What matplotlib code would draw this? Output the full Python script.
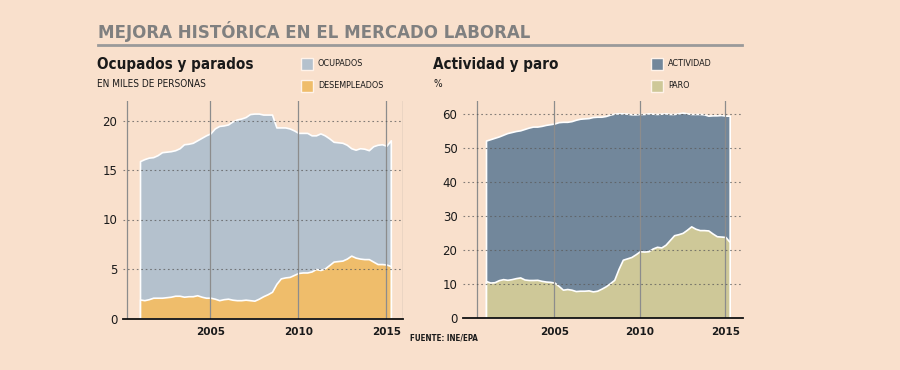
import numpy as np
import matplotlib
matplotlib.use("Agg")
import matplotlib.pyplot as plt
from matplotlib.patches import Rectangle
from matplotlib.lines import Line2D

# ---------------- data (quarterly, 2001Q1 .. 2015Q2) ----------------
start_year = 2001
ocupados = [15.9, 16.1, 16.25, 16.3, 16.5, 16.8, 16.85, 16.9, 17.0, 17.2,
            17.6, 17.65, 17.75, 18.0, 18.25, 18.5, 18.7, 19.2, 19.45, 19.5,
            19.6, 19.9, 20.1, 20.2, 20.35, 20.65, 20.7, 20.7, 20.6, 20.6,
            20.6, 19.3, 19.3, 19.3, 19.2, 19.0, 18.75, 18.75, 18.75, 18.5,
            18.5, 18.7, 18.5, 18.2, 17.85, 17.8, 17.75, 17.55, 17.2, 17.05,
            17.2, 17.15, 17.0, 17.4, 17.55, 17.6, 17.45, 18.0]
desempleados = [1.92, 1.85, 1.95, 2.1, 2.1, 2.1, 2.15, 2.2, 2.3, 2.3,
                2.2, 2.25, 2.25, 2.35, 2.2, 2.1, 2.1, 2.0, 1.85, 1.95,
                2.0, 1.9, 1.85, 1.85, 1.9, 1.85, 1.8, 2.0, 2.25, 2.45,
                2.7, 3.5, 4.05, 4.15, 4.2, 4.4, 4.6, 4.65, 4.65, 4.75,
                5.0, 4.9, 5.05, 5.4, 5.75, 5.8, 5.85, 6.05, 6.35, 6.15,
                6.05, 6.0, 6.0, 5.75, 5.5, 5.5, 5.45, 5.3]
actividad = [52.2, 52.6, 53.0, 53.4, 53.9, 54.4, 54.7, 55.0, 55.2, 55.6,
             56.0, 56.3, 56.3, 56.5, 56.8, 57.0, 57.2, 57.6, 57.7, 57.7,
             57.9, 58.3, 58.6, 58.7, 58.8, 59.1, 59.2, 59.2, 59.4, 59.8,
             60.1, 60.2, 60.2, 60.1, 59.9, 59.9, 60.0, 60.0, 60.2, 60.1,
             60.0, 60.1, 60.2, 60.0, 60.0, 60.2, 60.4, 60.2, 60.0, 60.0,
             60.0, 59.9, 59.5, 59.6, 59.6, 59.7, 59.5, 59.5]
paro = [10.95, 10.5, 10.6, 11.2, 11.5, 11.3, 11.5, 11.8, 12.0, 11.4,
        11.25, 11.25, 11.3, 11.0, 10.8, 10.7, 10.5, 9.5, 8.4, 8.6,
        8.4, 8.0, 8.1, 8.1, 8.2, 7.9, 8.1, 8.7, 9.4, 10.3,
        11.3, 14.5, 17.2, 17.6, 18.0, 18.8, 19.7, 19.6, 19.7, 20.5,
        21.0, 20.8, 21.6, 23.0, 24.4, 24.7, 25.1, 26.0, 27.0, 26.3,
        25.9, 25.9, 25.8, 24.9, 24.1, 24.0, 23.9, 22.4]

year_ticks = [2005, 2010, 2015]
left_yticks = [0, 5, 10, 15, 20]
right_yticks = [0, 10, 20, 30, 40, 50, 60]

title = "MEJORA HISTÓRICA EN EL MERCADO LABORAL"
left_title = "Ocupados y parados"
left_sub = "EN MILES DE PERSONAS"
right_title = "Actividad y paro"
right_sub = "%"
left_labels = ["OCUPADOS", "DESEMPLEADOS"]
right_labels = ["ACTIVIDAD", "PARO"]
source = "FUENTE: INE/EPA"

# ---------------- style ----------------
BG = "#F9E0CC"
C_OCU = "#B4C1CD"
C_DES = "#EFBD6B"
C_ACT = "#72879B"
C_PAR = "#CEC898"
GRAY = "#8C8C8C"
COND = dict(family="DejaVu Sans", fontstretch="condensed")

W, H = 900, 370
fig = plt.figure(figsize=(W / 100, H / 100), dpi=100)
fig.patch.set_facecolor(BG)


def px_axes(left, right, top, bottom):
    return fig.add_axes([left / W, 1 - bottom / H, (right - left) / W, (bottom - top) / H])


def fx(x):
    return x / W


def fy(y):
    return 1 - y / H


t_left = start_year + np.arange(len(ocupados)) / 4.0
t_right = start_year + np.arange(len(actividad)) / 4.0


def setup(ax, xlim, ylim, yticks, vlines, right_edge=False):
    ax.set_facecolor("none")
    ax.set_xlim(*xlim)
    ax.set_ylim(*ylim)
    for s in ax.spines.values():
        s.set_visible(False)
    ax.axhline(0, color="#111111", lw=1.3, zorder=6, clip_on=False)
    for v in vlines:
        ax.axvline(v, color=GRAY, lw=0.9, zorder=4)
    if right_edge:
        ax.axvline(xlim[1], color=GRAY, lw=0.9, zorder=4)
    for yv in yticks[1:]:
        ax.axhline(yv, xmin=0, xmax=1, color="#5a5a5a", lw=0.8,
                   linestyle=(0, (1.5, 2.5)), alpha=0.75, zorder=5)
    ax.set_yticks(yticks)
    ax.set_yticklabels([str(v) for v in yticks], fontsize=8.5, color="#1a1a1a")
    ax.set_xticks(year_ticks)
    ax.set_xticklabels([str(v) for v in year_ticks], fontsize=7.5,
                       fontweight="bold", color="#1a1a1a")
    ax.tick_params(length=0, pad=4)
    ax.tick_params(axis="x", pad=6)


# left chart
axL = px_axes(123, 403, 100.7, 318.5)
xlL = (start_year - 17 / 17.6, start_year + 263 / 17.6)
setup(axL, xlL, (0, 22.0), left_yticks,
      [start_year - 12.7 / 17.6] + year_ticks, right_edge=True)
axL.fill_between(t_left, 0, ocupados, facecolor=C_OCU, edgecolor="white", lw=1.2, zorder=2)
axL.fill_between(t_left, 0, desempleados, facecolor=C_DES, edgecolor="white", lw=1.2, zorder=3)

# right chart
axR = px_axes(463, 743, 100.7, 318.3)
xlR = (start_year - 23 / 17.1, start_year + 257 / 17.1)
setup(axR, xlR, (0, 63.9), right_yticks,
      [start_year - 9.5 / 17.1] + year_ticks)
axR.fill_between(t_right, 0, actividad, facecolor=C_ACT, edgecolor="white", lw=1.2, zorder=2)
axR.fill_between(t_right, 0, paro, facecolor=C_PAR, edgecolor="white", lw=1.2, zorder=3)

# ---------------- header texts ----------------
fig.text(fx(98), fy(32), title, fontsize=13.3, fontweight="bold", color="#808080",
         va="center", ha="left", **COND)
fig.add_artist(Line2D([fx(98), fx(742)], [fy(45), fy(45)], color="#9A9A9A", lw=2))

fig.text(fx(97), fy(65), left_title, fontsize=10.9, fontweight="bold", color="#1a1a1a",
         va="center", ha="left", **COND)
fig.text(fx(97), fy(84), left_sub, fontsize=7.2, color="#1a1a1a",
         va="center", ha="left", **COND)
fig.text(fx(433), fy(65), right_title, fontsize=10.9, fontweight="bold", color="#1a1a1a",
         va="center", ha="left", **COND)
fig.text(fx(433), fy(84), right_sub, fontsize=7.2, color="#1a1a1a",
         va="center", ha="left", **COND)


def legend(x, labels, colors):
    for k, (lab, col) in enumerate(zip(labels, colors)):
        yc = 64 + 22 * k
        fig.add_artist(Rectangle((fx(x), fy(yc + 6)), 12 / W, 12 / H, facecolor=col,
                                 edgecolor="#FFF3EA", lw=1.0, transform=fig.transFigure))
        fig.text(fx(x + 17), fy(yc), lab, fontsize=6.5, color="#1a1a1a",
                 va="center", ha="left", **COND)


legend(301, left_labels, [C_OCU, C_DES])
legend(651, right_labels, [C_ACT, C_PAR])

fig.text(fx(410), fy(338), source, fontsize=5.8, fontweight="bold", color="#1a1a1a",
         va="center", ha="left", **COND)

fig.savefig("out.png", dpi=100, facecolor=BG)
